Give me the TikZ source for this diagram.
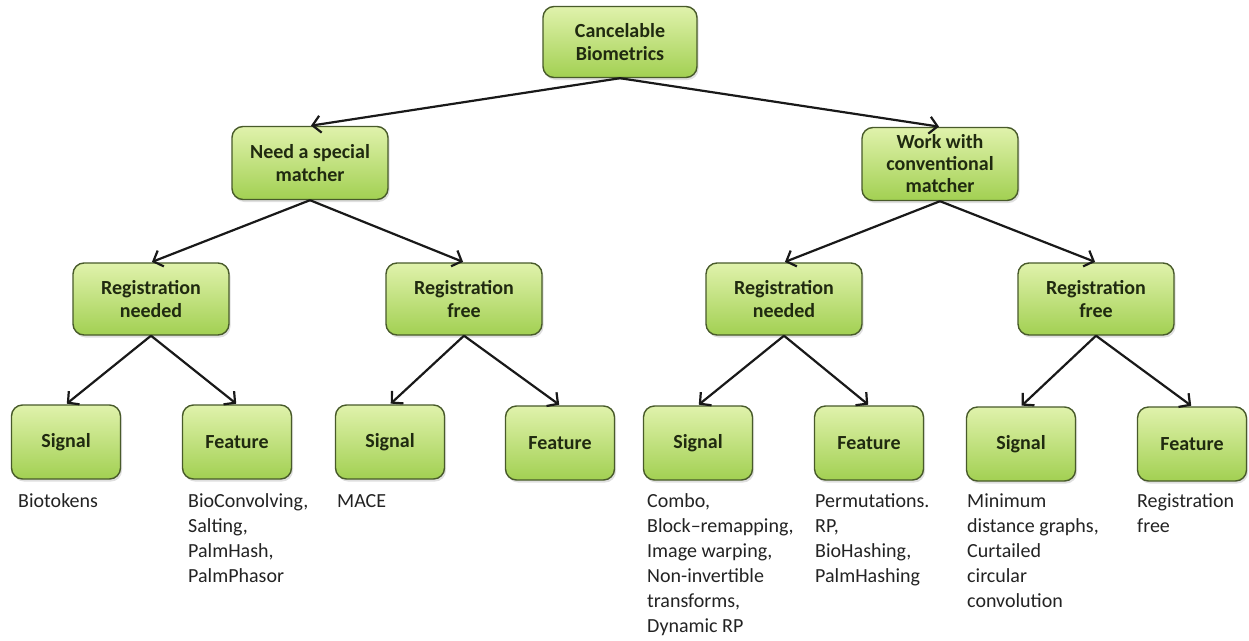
\documentclass[tikz,border=0pt]{standalone}
\usepackage{fontspec}
\setmainfont{Carlito}
\usetikzlibrary{arrows.meta,shadows}
\definecolor{boxtop}{RGB}{224,242,172}
\definecolor{boxbot}{RGB}{162,208,82}
\definecolor{boxline}{RGB}{72,90,42}
\definecolor{boxtext}{RGB}{32,42,16}
\definecolor{labeltext}{RGB}{35,35,35}
\tikzset{
  box/.style={draw=boxline, line width=1.4pt, rounded corners=11pt,
    top color=boxtop, bottom color=boxbot, text=boxtext,
    font=\bfseries\fontsize{20}{23}\selectfont, align=center, inner sep=0pt,
    drop shadow={opacity=0.25, shadow xshift=1.5pt, shadow yshift=-2.5pt}},
  midbox/.style={box, minimum width=156pt, minimum height=73pt},
  leafbox/.style={box, minimum width=109pt, minimum height=74pt},
  note/.style={anchor=north west, align=left, inner sep=0pt, text=labeltext,
    font=\fontsize{20}{25}\selectfont},
  link/.style={draw=black!90, line width=2.2pt,
    -{Straight Barb[length=8pt,width=17pt,line width=2.2pt]}, shorten >=1pt}
}
\begin{document}
\begin{tikzpicture}[x=1pt, y=-1pt]
  \useasboundingbox[fill=white] (0,0) rectangle (1249,640);

  % root
  \node[box, minimum width=154pt, minimum height=71pt] (root) at (620,42) {Cancelable\\Biometrics};

  % matcher level
  \node[midbox] (need) at (310,163) {Need a special\\matcher};
  \node[midbox, font=\bfseries\fontsize{20}{22}\selectfont] (conv) at (940,164) {Work with\\conventional\\matcher};

  % registration level
  \node[midbox, minimum height=72pt] (rn1) at (151,299) {Registration\\needed};
  \node[midbox, minimum height=72pt] (rf1) at (464,299) {Registration\\free};
  \node[midbox, minimum height=72pt] (rn2) at (784,299) {Registration\\needed};
  \node[midbox, minimum height=72pt] (rf2) at (1096,299) {Registration\\free};

  % leaves
  \node[leafbox] (s1) at (66,442) {Signal};
  \node[leafbox] (f1) at (237,442) {Feature};
  \node[leafbox] (s2) at (390,442) {Signal};
  \node[leafbox] (f2) at (560,443) {Feature};
  \node[leafbox] (s3) at (698,443) {Signal};
  \node[leafbox] (f3) at (869,443) {Feature};
  \node[leafbox] (s4) at (1021,444) {Signal};
  \node[leafbox] (f4) at (1192,444) {Feature};

  % connectors
  \draw[link] (root.south) -- (need.north);
  \draw[link] (root.south) -- (conv.north);
  \draw[link] (need.south) -- (rn1.north);
  \draw[link] (need.south) -- (rf1.north);
  \draw[link] (conv.south) -- (rn2.north);
  \draw[link] (conv.south) -- (rf2.north);
  \draw[link] (rn1.south) -- (s1.north);
  \draw[link] (rn1.south) -- (f1.north);
  \draw[link] (rf1.south) -- (s2.north);
  \draw[link] (rf1.south) -- (f2.north);
  \draw[link] (rn2.south) -- (s3.north);
  \draw[link] (rn2.south) -- (f3.north);
  \draw[link] (rf2.south) -- (s4.north);
  \draw[link] (rf2.south) -- (f4.north);

  % method lists
  \node[note] (t1) at (18,490) {\strut Biotokens};
  \node[note] (t2) at (188,490) {\strut BioConvolving,\\Salting,\\PalmHash,\\PalmPhasor};
  \node[note] (t3) at (337,490) {\strut MACE};
  \node[note] (t5) at (647,490) {\strut Combo,\\Block–remapping,\\Image warping,\\Non-invertible\\transforms,\\Dynamic RP};
  \node[note] (t6) at (815,490) {\strut Permutations.\\RP,\\BioHashing,\\PalmHashing};
  \node[note] (t7) at (967,490) {\strut Minimum\\distance graphs,\\Curtailed\\circular\\convolution};
  \node[note] (t8) at (1137,490) {\strut Registration\\free};
\end{tikzpicture}
\end{document}
